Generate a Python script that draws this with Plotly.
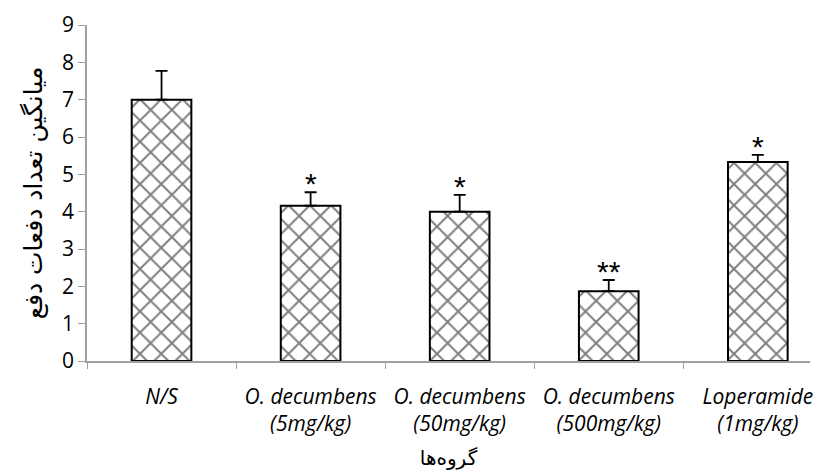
import plotly.graph_objects as go

categories = ["N/S", "O. decumbens|(5mg/kg)", "O. decumbens|(50mg/kg)",
              "O. decumbens|(500mg/kg)", "Loperamide|(1mg/kg)"]
means = [7.0, 4.16, 4.0, 1.87, 5.33]
err_up = [0.77, 0.36, 0.45, 0.30, 0.19]
stars = ["", "*", "*", "**", "*"]
y_ticks = [0, 1, 2, 3, 4, 5, 6, 7, 8, 9]
y_title = "میانگین تعداد دفعات دفع"
x_title = "گروه‌ها"

tick_text = ["<br>".join("<i>%s</i>" % p for p in c.split("|")) for c in categories]

fig = go.Figure()
fig.add_trace(go.Bar(
    x=categories, y=means,
    marker=dict(color="white",
                line=dict(color="black", width=2),
                pattern=dict(shape="x", size=15, solidity=0.25,
                             fgcolor="black", bgcolor="white")),
    error_y=dict(type="data", array=err_up, arrayminus=[0]*len(err_up),
                 symmetric=False, color="black", thickness=1.8, width=6),
    width=0.4,
))

for c, m, e, s in zip(categories, means, err_up, stars):
    if s:
        fig.add_annotation(x=c, y=m + e, text=s, showarrow=False,
                           yanchor="bottom", yshift=-10,
                           font=dict(family="Liberation Sans", size=30, color="black"))

fig.update_layout(
    width=816, height=467,
    margin=dict(l=79, r=14, t=17, b=114),
    plot_bgcolor="white", paper_bgcolor="white",
    showlegend=False,
    font=dict(family="Open Sans", color="black"),
    xaxis=dict(
        type="category", range=[-0.5, 4.35], automargin=False,
        tickmode="array", tickvals=categories, ticktext=tick_text,
        tickson="boundaries", ticks="outside", ticklen=6, tickcolor="#a0a0a0",
        showline=True, linecolor="#a0a0a0", linewidth=1.5,
        tickfont=dict(family="Open Sans", size=21, color="black"),
        ticklabelstandoff=16,
        title=dict(text=x_title, font=dict(family="DejaVu Sans", size=20, color="black"),
                   standoff=15),
        showgrid=False, zeroline=False,
    ),
    yaxis=dict(
        range=[0, 9], tickvals=y_ticks, automargin=False,
        ticks="outside", ticklen=7, tickcolor="#a0a0a0",
        showline=True, linecolor="#a0a0a0", linewidth=1.5,
        tickfont=dict(family="Open Sans", size=21, color="black"),
        title=dict(text=y_title, font=dict(family="DejaVu Sans", size=25, color="black"),
                   standoff=12),
        showgrid=False, zeroline=False,
    ),
)

fig.write_html("out.html")
